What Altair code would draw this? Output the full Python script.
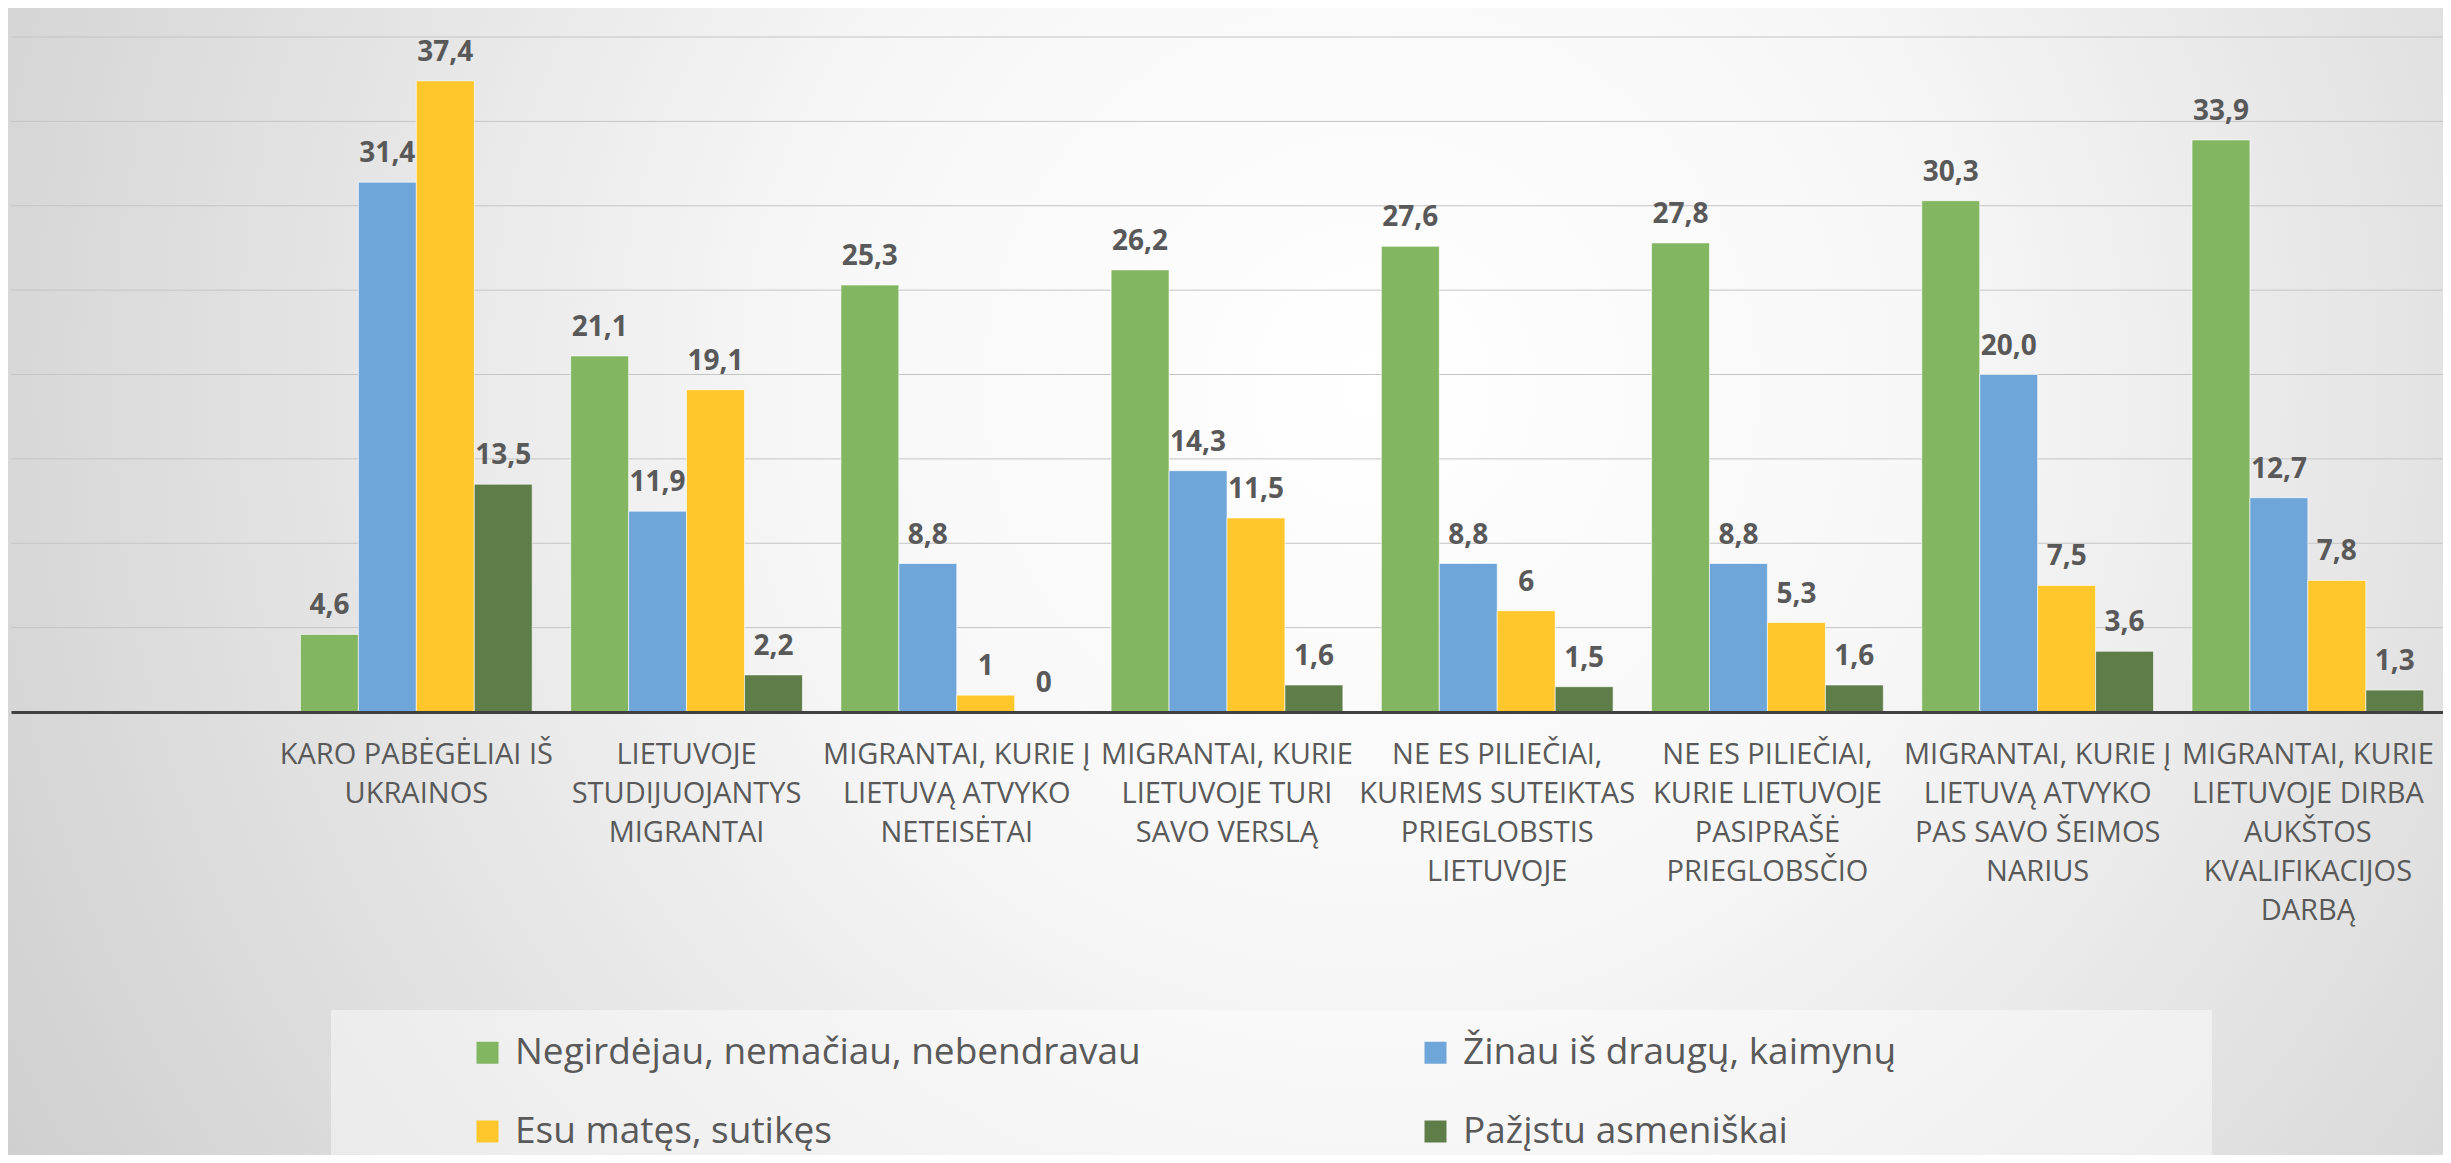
import altair as alt
import pandas as pd

# ---------------- data ----------------
categories = [
    " ",
    "KARO PABĖGĖLIAI IŠ|UKRAINOS",
    "LIETUVOJE|STUDIJUOJANTYS|MIGRANTAI",
    "MIGRANTAI, KURIE Į|LIETUVĄ ATVYKO|NETEISĖTAI",
    "MIGRANTAI, KURIE|LIETUVOJE TURI|SAVO VERSLĄ",
    "NE ES PILIEČIAI,|KURIEMS SUTEIKTAS|PRIEGLOBSTIS|LIETUVOJE",
    "NE ES PILIEČIAI,|KURIE LIETUVOJE|PASIPRAŠĖ|PRIEGLOBSČIO",
    "MIGRANTAI, KURIE Į|LIETUVĄ ATVYKO|PAS SAVO ŠEIMOS|NARIUS",
    "MIGRANTAI, KURIE|LIETUVOJE DIRBA|AUKŠTOS|KVALIFIKACIJOS|DARBĄ",
]
series = [
    "Negirdėjau, nemačiau, nebendravau",
    "Žinau iš draugų, kaimynų",
    "Esu matęs, sutikęs",
    "Pažįstu asmeniškai",
]
colors = ["#83B660", "#6FA6D9", "#FFC72C", "#5E7D49"]

negirdejau = [4.6, 21.1, 25.3, 26.2, 27.6, 27.8, 30.3, 33.9]
zinau = [31.4, 11.9, 8.8, 14.3, 8.8, 8.8, 20.0, 12.7]
esu_mates = [37.4, 19.1, 1.0, 11.5, 6.0, 5.3, 7.5, 7.8]
pazistu = [13.5, 2.2, 0.0, 1.6, 1.5, 1.6, 3.6, 1.3]

negirdejau_lbl = ["4,6", "21,1", "25,3", "26,2", "27,6", "27,8", "30,3", "33,9"]
zinau_lbl = ["31,4", "11,9", "8,8", "14,3", "8,8", "8,8", "20,0", "12,7"]
esu_mates_lbl = ["37,4", "19,1", "1", "11,5", "6", "5,3", "7,5", "7,8"]
pazistu_lbl = ["13,5", "2,2", "0", "1,6", "1,5", "1,6", "3,6", "1,3"]

grid_values = [5, 10, 15, 20, 25, 30, 35, 40]
y_domain = [0, 40]

rows = []
for s, vals, labs in zip(series,
                         [negirdejau, zinau, esu_mates, pazistu],
                         [negirdejau_lbl, zinau_lbl, esu_mates_lbl, pazistu_lbl]):
    for c, v, l in zip(categories[1:], vals, labs):
        rows.append({"category": c, "series": s, "value": v, "label": l})
df = pd.DataFrame(rows)

# ---------------- layout ----------------
W, H = 2432, 675
PL, PT, PR, PB = 3, 29, 0, 443
TEXT = "#595959"
FONT = "Open Sans"

x_enc = alt.X(
    "category:N",
    scale=alt.Scale(domain=categories, paddingInner=0, paddingOuter=0),
    title=None,
    axis=alt.Axis(
        labelExpr="split(datum.label, '|')",
        labelAngle=0,
        labelFont=FONT,
        labelFontSize=29,
        labelLineHeight=39,
        labelColor=TEXT,
        labelPadding=28,
        labelLimit=0,
        ticks=False,
        domainColor="#404040",
        domainWidth=3,
        grid=False,
        zindex=1,
    ),
)
xoff_enc = alt.XOffset(
    "series:N", scale=alt.Scale(domain=series, paddingInner=0, paddingOuter=0.332)
)
y_enc = alt.Y("value:Q", scale=alt.Scale(domain=y_domain), axis=None)

bg = alt.Chart(alt.Data(values=[{}])).mark_rect(
    fill={
        "gradient": "radial",
        "x1": 0.56, "y1": 0.42, "r1": 0,
        "x2": 0.56, "y2": 0.42, "r2": 0.78,
        "stops": [
            {"offset": 0, "color": "#ffffff"},
            {"offset": 0.3, "color": "#f7f7f7"},
            {"offset": 1, "color": "#c2c2c2"},
        ],
    }
).encode(x=alt.value(-PL), x2=alt.value(W + PR), y=alt.value(-PT), y2=alt.value(H + PB))

legbox = alt.Chart(alt.Data(values=[{}])).mark_rect(fill="white", opacity=0.45).encode(
    x=alt.value(320), x2=alt.value(2201), y=alt.value(973), y2=alt.value(H + PB)
)

grid = alt.Chart(pd.DataFrame({"g": grid_values})).mark_rule(
    color="#c4c4c4", strokeWidth=1
).encode(y=alt.Y("g:Q", scale=alt.Scale(domain=y_domain), axis=None))

bars = alt.Chart(df).mark_bar(stroke="white", strokeWidth=1, strokeOpacity=0.6).encode(
    x=x_enc,
    xOffset=xoff_enc,
    y=y_enc,
    color=alt.Color(
        "series:N",
        scale=alt.Scale(domain=series, range=colors),
        legend=alt.Legend(
            title=None,
            orient="none",
            direction="horizontal",
            legendX=458,
            legendY=997,
            columns=2,
            columnPadding=276,
            rowPadding=41,
            symbolType="square",
            symbolSize=484,
            symbolStrokeWidth=0,
            labelFont=FONT,
            labelFontSize=37,
            labelColor=TEXT,
            labelOffset=9,
            labelLimit=0,
            padding=0,
        ),
    ),
)

labels = alt.Chart(df).mark_text(
    baseline="alphabetic", dy=-20, font=FONT, fontSize=28, fontWeight="bold", color=TEXT
).encode(x=x_enc, xOffset=xoff_enc, y=y_enc, text="label:N")

chart = alt.layer(bg, legbox, grid, bars, labels).properties(
    width=W,
    height=H,
    autosize=alt.AutoSizeParams(type="none"),
    padding={"left": PL, "top": PT, "right": PR, "bottom": PB},
).configure_view(stroke=None)

chart.save("out.html", embed_options={"renderer": "svg", "actions": False})
